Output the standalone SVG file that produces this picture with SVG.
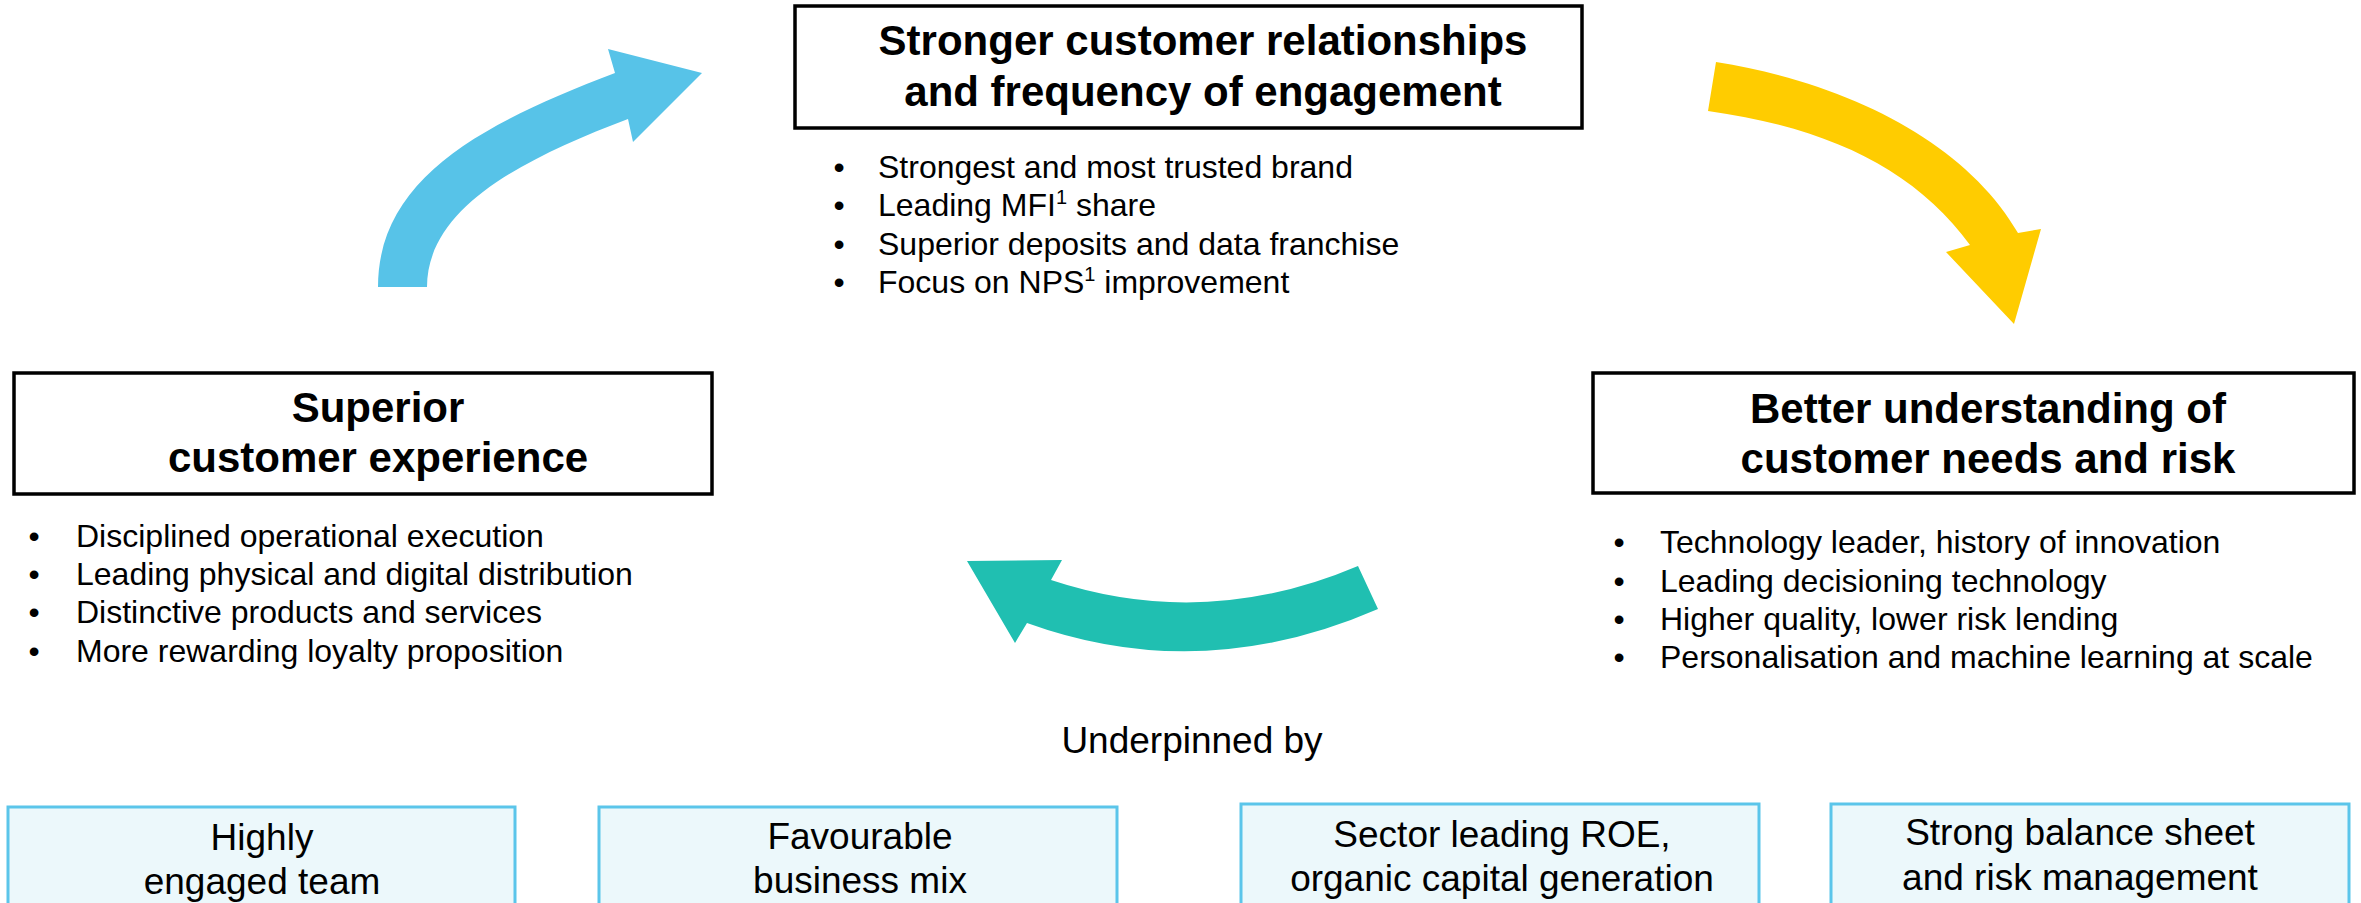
<svg xmlns="http://www.w3.org/2000/svg" width="2361" height="903" viewBox="0 0 2361 903">
<style>
.bg{fill:#ffffff}
.hbox{fill:#ffffff;stroke:#000000;stroke-width:3.5}
.title{font-family:"Liberation Sans",Arial,sans-serif;font-weight:bold;font-size:42px;fill:#000;text-anchor:middle}
.bul{font-family:"Liberation Sans",Arial,sans-serif;font-size:32px;fill:#000}
.dot{font-family:"Liberation Sans",Arial,sans-serif;font-size:32px;fill:#000;text-anchor:middle}
.sup{font-size:20px}
.ubox{fill:#ECF8FB;stroke:#5BC5EA;stroke-width:3}
.utxt{font-family:"Liberation Sans",Arial,sans-serif;font-size:37px;fill:#000;text-anchor:middle}
</style>
<rect class="bg" x="0" y="0" width="2361" height="903"/>

<g id="connectors">
  <path id="arrow-blue" fill="#57C3E8" d="M378,287 C378,177 484,123 615,73 L608,49 L702,73 L633,142 L628,119 C525,158 427,207 427,287 Z"/>
  <path id="arrow-yellow" fill="#FFCC00" d="M1716,62 C1854,84 1968,146 2018,233 L2041,229 L2014,324 L1946,252 L1970,245 C1915,170 1830,128 1708,111 Z"/>
  <path id="arrow-teal" fill="#20BFB1" d="M1358,566 Q1205,631 1051,580 L1062,560 L967,561 L1015,643 L1027,623 Q1201,686 1378,609 Z"/>
</g>

<g id="node-relationships">
  <rect class="hbox" x="795" y="6" width="787" height="122"/>
  <text class="title" x="1203" y="55">Stronger customer relationships</text>
  <text class="title" x="1203" y="106">and frequency of engagement</text>
  <text class="dot" x="839" y="178">•</text>
  <text class="dot" x="839" y="216">•</text>
  <text class="dot" x="839" y="255">•</text>
  <text class="dot" x="839" y="293">•</text>
  <text class="bul" x="878" y="178">Strongest and most trusted brand</text>
  <text class="bul" x="878" y="216">Leading MFI<tspan class="sup" dy="-12">1</tspan><tspan dy="12"> share</tspan></text>
  <text class="bul" x="878" y="255">Superior deposits and data franchise</text>
  <text class="bul" x="878" y="293">Focus on NPS<tspan class="sup" dy="-12">1</tspan><tspan dy="12"> improvement</tspan></text>
</g>

<g id="node-understanding">
  <rect class="hbox" x="1593" y="373" width="761" height="120"/>
  <text class="title" x="1988" y="423">Better understanding of</text>
  <text class="title" x="1988" y="473">customer needs and risk</text>
  <text class="dot" x="1619" y="553">•</text>
  <text class="dot" x="1619" y="592">•</text>
  <text class="dot" x="1619" y="630">•</text>
  <text class="dot" x="1619" y="668">•</text>
  <text class="bul" x="1660" y="553">Technology leader, history of innovation</text>
  <text class="bul" x="1660" y="592">Leading decisioning technology</text>
  <text class="bul" x="1660" y="630">Higher quality, lower risk lending</text>
  <text class="bul" x="1660" y="668">Personalisation and machine learning at scale</text>
</g>

<g id="node-experience">
  <rect class="hbox" x="14" y="373" width="698" height="121"/>
  <text class="title" x="378" y="422">Superior</text>
  <text class="title" x="378" y="472">customer experience</text>
  <text class="dot" x="34" y="547">•</text>
  <text class="dot" x="34" y="585">•</text>
  <text class="dot" x="34" y="623">•</text>
  <text class="dot" x="34" y="662">•</text>
  <text class="bul" x="76" y="547">Disciplined operational execution</text>
  <text class="bul" x="76" y="585">Leading physical and digital distribution</text>
  <text class="bul" x="76" y="623">Distinctive products and services</text>
  <text class="bul" x="76" y="662">More rewarding loyalty proposition</text>
</g>

<g id="label-underpinned">
  <text class="utxt" x="1192" y="753">Underpinned by</text>
</g>

<g id="node-team">
  <rect class="ubox" x="8" y="807" width="507" height="110"/>
  <text class="utxt" x="262" y="850">Highly</text>
  <text class="utxt" x="262" y="894">engaged team</text>
</g>
<g id="node-mix">
  <rect class="ubox" x="599" y="807" width="518" height="110"/>
  <text class="utxt" x="860" y="849">Favourable</text>
  <text class="utxt" x="860" y="893">business mix</text>
</g>
<g id="node-roe">
  <rect class="ubox" x="1241" y="804" width="518" height="110"/>
  <text class="utxt" x="1502" y="847">Sector leading ROE,</text>
  <text class="utxt" x="1502" y="891">organic capital generation</text>
</g>
<g id="node-balance">
  <rect class="ubox" x="1831" y="804" width="518" height="110"/>
  <text class="utxt" x="2080" y="845">Strong balance sheet</text>
  <text class="utxt" x="2080" y="890">and risk management</text>
</g>
</svg>
